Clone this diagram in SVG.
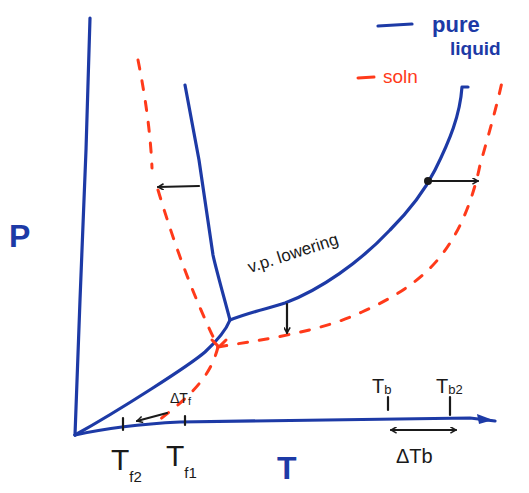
<svg xmlns="http://www.w3.org/2000/svg" width="529" height="493" viewBox="0 0 529 493">
<style>
.blue{fill:none;stroke:#1d3aa6;stroke-width:3.2;stroke-linecap:round;stroke-linejoin:round}
.red{fill:none;stroke:#ff3a1a;stroke-width:3;stroke-linecap:round;stroke-dasharray:9 12}
.arr{fill:none;stroke:#1a1a1a;stroke-width:2.2;stroke-linecap:round;stroke-linejoin:round}
.bt{font-family:"Liberation Sans",sans-serif;fill:#1d3aa6}
.kt{font-family:"Liberation Sans",sans-serif;fill:#1a1a1a}
.rt{font-family:"Liberation Sans",sans-serif;fill:#ff3a1a}
</style>
<defs>
<marker id="ah" viewBox="0 0 10 10" refX="9" refY="5" markerWidth="7" markerHeight="7" orient="auto-start-reverse" markerUnits="userSpaceOnUse">
<path d="M1,0.5 L9,5 L1,9.5" fill="none" stroke="#1a1a1a" stroke-width="2.2"/>
</marker>
</defs>
<rect width="529" height="493" fill="#fff"/>
<g id="axes">
<path class="blue" d="M90,18 L86,150 L80,300 L75,435"/>
<path class="blue" d="M75,435 Q120,425 180,422 L470,418 L495,421"/>
<path d="M477,414 L493,420 L479,424 Z" fill="#1d3aa6"/>
<text class="bt" x="9" y="247" font-size="32" font-weight="bold">P</text>
<text class="bt" x="277" y="479" font-size="32" font-weight="bold">T</text>
</g>
<g id="pure-curves">
<path class="blue" d="M75,435 C120,410 190,365 205,352 C218,340 226,330 230,320"/>
<path class="blue" d="M230,320 C222,290 215,265 213,255 L199,160 L185,85"/>
<path class="blue" d="M230,320 C250,312 270,308 285,303 C320,290 360,262 390,230 C410,210 425,190 435,170 C450,140 460,115 462,87 L468,87"/>
</g>
<g id="soln-curves">
<path class="red" d="M138,60 Q150,120 152,168"/>
<path class="red" d="M158,190 Q185,280 218,347"/>
<path class="red" d="M212,340 L226,354 M226,340 L212,354" stroke-dasharray="none"/>
<path class="red" d="M218,347 C260,340 320,332 362,312 C400,295 430,275 450,243 C465,220 475,190 480,165 C490,130 497,105 502,82"/>
<path class="red" d="M218,347 C212,370 200,390 155,423"/>
</g>
<g id="connectors">
<path class="arr" d="M199,186 L158,187" marker-end="url(#ah)"/>
<path class="arr" d="M287,304 L287,333" marker-end="url(#ah)"/>
<circle cx="428" cy="181" r="4" fill="#1a1a1a"/>
<path class="arr" d="M428,181 L478,181" marker-end="url(#ah)"/>
<path class="arr" d="M123,418 L123,430"/>
<path class="arr" d="M167,413 L137,421" marker-end="url(#ah)"/>
<path class="arr" d="M185,416 L185,425"/>
<path class="arr" d="M388,397 L388,410"/>
<path class="arr" d="M450,397 L450,415"/>
<path class="arr" d="M391,430 L456,430" marker-start="url(#ah)" marker-end="url(#ah)"/>
</g>
<g id="labels">
<text class="kt" x="250" y="273" font-size="17" transform="rotate(-18 250 273)">v.p. lowering</text>
<text class="kt" x="170" y="403" font-size="14">ΔT<tspan font-size="11" dy="2">f</tspan></text>
<text class="kt" x="111" y="470" font-size="30">T<tspan font-size="15" dy="12">f2</tspan></text>
<text class="kt" x="166" y="466" font-size="30">T<tspan font-size="15" dy="12">f1</tspan></text>
<text class="kt" x="372" y="393" font-size="20">T<tspan font-size="13" dy="1">b</tspan></text>
<text class="kt" x="436" y="393" font-size="20">T<tspan font-size="13" dy="1">b2</tspan></text>
<text class="kt" x="396" y="463" font-size="20">ΔTb</text>
</g>
<g id="legend">
<path class="blue" d="M378,26 L412,24" stroke-width="4"/>
<text class="bt" x="432" y="32" font-size="22" font-weight="bold">pure</text>
<text class="bt" x="450" y="55" font-size="19" font-weight="bold">liquid</text>
<path d="M358,78 L374,77" stroke="#ff3a1a" stroke-width="3" stroke-linecap="round"/>
<text class="rt" x="383" y="83" font-size="19">soln</text>
</g>
</svg>
